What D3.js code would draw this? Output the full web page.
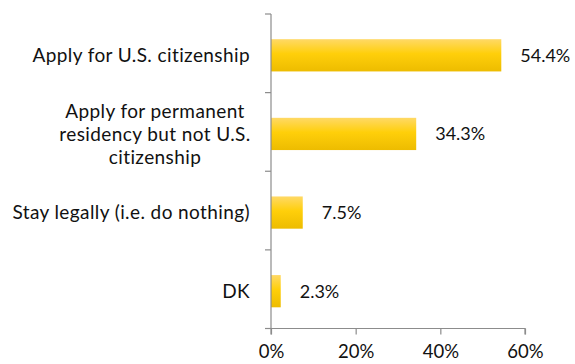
<!DOCTYPE html>
<html>
<head>
<meta charset="utf-8">
<script src="https://cdn.jsdelivr.net/npm/d3@7"></script>
<style>
  body { margin: 0; background: #fff; }
  svg { display: block; font-family: Lato, "Open Sans", sans-serif; }
</style>
</head>
<body>
<svg id="chart" width="575" height="364"></svg>
<script>
const categories = [
  ["Apply for U.S. citizenship"],
  ["Apply for permanent", "residency but not U.S.", "citizenship"],
  ["Stay legally (i.e. do nothing)"],
  ["DK"]
];
const values = [54.4, 34.3, 7.5, 2.3];
const tickValues = [0, 20, 40, 60];
const tickLabels = ["0%", "20%", "40%", "60%"];

const svg = d3.select("#chart");
const margin = { left: 271, right: 50, top: 14, bottom: 35.5 };
const W = 575, H = 364;
const fontSize = 18;

const x = d3.scaleLinear().domain([0, 60]).range([margin.left, 525]);
const y = d3.scaleBand().domain(d3.range(values.length)).range([margin.top, H - margin.bottom]).paddingInner(0.59).paddingOuter(0.295);
const band = d3.scaleBand().domain(d3.range(values.length)).range([margin.top, H - margin.bottom]);

const defs = svg.append("defs");
const grad = defs.append("linearGradient").attr("id", "barFill").attr("x1", 0).attr("x2", 0).attr("y1", 0).attr("y2", 1);
grad.append("stop").attr("offset", "0%").attr("stop-color", "#FFD966");
grad.append("stop").attr("offset", "45%").attr("stop-color", "#FFCF0A");
grad.append("stop").attr("offset", "100%").attr("stop-color", "#EDBC00");

// bars
svg.selectAll("rect.bar").data(values).join("rect")
  .attr("class", "bar")
  .attr("x", x(0))
  .attr("y", (d, i) => y(i) + 2)
  .attr("width", d => x(d) - x(0))
  .attr("height", y.bandwidth())
  .attr("fill", "url(#barFill)");

// value labels
svg.selectAll("text.val").data(values).join("text")
  .attr("class", "val")
  .attr("x", d => x(d) + 19)
  .attr("y", (d, i) => y(i) + 2 + y.bandwidth() / 2)
  .attr("dy", "0.36em")
  .attr("font-size", fontSize)
  .attr("fill", "#111")
  .text(d => d.toFixed(1) + "%");

// category axis
const axisColor = "#8c8c8c";
svg.append("line")
  .attr("x1", x(0)).attr("x2", x(0))
  .attr("y1", margin.top).attr("y2", H - margin.bottom)
  .attr("stroke", axisColor).attr("stroke-width", 1.2);
const bounds = d3.range(values.length + 1).map(i => margin.top + i * band.bandwidth());
svg.selectAll("line.ytick").data(bounds).join("line")
  .attr("class", "ytick")
  .attr("x1", x(0) - 6).attr("x2", x(0))
  .attr("y1", d => d).attr("y2", d => d)
  .attr("stroke", axisColor).attr("stroke-width", 1.2);

// category labels
const lh = 23;
svg.selectAll("text.cat").data(categories).join("text")
  .attr("class", "cat")
  .attr("font-size", 19)
  .attr("letter-spacing", 0.4)
  .attr("fill", "#111")
  .attr("text-anchor", d => d.length > 1 ? "middle" : "end")
  .each(function(lines, i) {
    const cy = band(i) + band.bandwidth() / 2 + 2;
    const t = d3.select(this);
    const x0 = lines.length > 1 ? 155 : 250;
    lines.forEach((ln, k) => {
      t.append("tspan")
        .attr("x", x0)
        .attr("y", cy + (k - (lines.length - 1) / 2) * lh)
        .attr("dy", "0.36em")
        .text(ln);
    });
  });

// value axis
const xAxis = d3.axisBottom(x).tickValues(tickValues).tickFormat((d, i) => tickLabels[i]).tickSize(6).tickPadding(10);
const gx = svg.append("g").attr("transform", `translate(0,${H - margin.bottom})`).call(xAxis);
gx.select(".domain").attr("stroke", axisColor).attr("stroke-width", 1.2).attr("d", `M${x(0)},6V0H${x(60)}V6`);
gx.selectAll(".tick line").attr("stroke", axisColor).attr("stroke-width", 1.2);
gx.selectAll(".tick text").attr("font-size", 18.5).attr("fill", "#111").attr("font-family", "Lato, sans-serif");
</script>
</body>
</html>
